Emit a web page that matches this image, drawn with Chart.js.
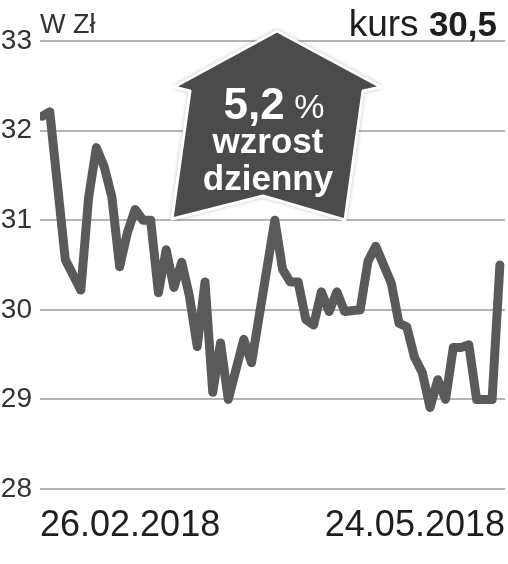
<!DOCTYPE html>
<html>
<head>
<meta charset="utf-8">
<script src="https://cdn.jsdelivr.net/npm/chart.js@4/dist/chart.umd.min.js"></script>
<style>
  html, body { margin: 0; padding: 0; background: #fff; }
  #wrap { width: 508px; height: 564px; position: relative; }
</style>
</head>
<body>
<div id="wrap"><canvas id="chart" width="508" height="564"></canvas></div>
<script>
// trading-day index since 26.02.2018 and closing price
const dayIndex = [0, 1, 3, 5, 6, 7, 8, 9, 10, 11, 12, 13, 14, 15, 16, 17, 18, 19,
    20, 21, 22, 23, 24, 26, 27, 30, 31, 32, 33, 34, 35, 36, 37, 38, 39, 41,
    42, 43, 45, 46, 47, 48, 49, 50, 51, 52, 53, 54, 55, 56, 58, 59];
const prices = [32.16, 32.21, 30.56, 30.22, 31.25, 31.81, 31.6, 31.26, 30.48, 30.86, 31.12, 31.0, 31.0, 30.19, 30.67, 30.25, 30.53, 30.15,
    29.59, 30.31, 29.08, 29.63, 29.0, 29.67, 29.41, 31.0, 30.45, 30.31, 30.31, 29.89, 29.83, 30.2, 29.98, 30.2, 29.98, 30.0,
    30.54, 30.71, 30.3, 29.85, 29.81, 29.47, 29.3, 28.91, 29.22, 29.0, 29.58, 29.58, 29.61, 29.0, 29.0, 30.5];
const xTickLabels = ["26.02.2018", "24.05.2018"];
const yMin = 28;
const yMax = 33;

const unitLabel = "W Zł";
const rateLabel = "kurs";
const rateValue = "30,5";
const badgeValue = "5,2";
const badgeLines = ["wzrost", "dzienny"];

const lineColour = "#5a5a5a";
const badgeColour = "#4b4b4b";

function drawBadge(ctx) {
    ctx.save();
    ctx.beginPath();
    ctx.moveTo(277, 31);
    ctx.lineTo(381, 87);
    ctx.lineTo(363, 91);
    ctx.lineTo(345, 220);
    ctx.lineTo(263, 196);
    ctx.lineTo(172, 219);
    ctx.lineTo(190, 91);
    ctx.lineTo(174, 87);
    ctx.closePath();
    ctx.shadowColor = "rgba(0,0,0,0.45)";
    ctx.shadowBlur = 5;
    ctx.fillStyle = badgeColour;
    ctx.fill();
    ctx.shadowColor = "transparent";
    ctx.lineJoin = "round";
    ctx.lineWidth = 3;
    ctx.strokeStyle = "#fff";
    ctx.stroke();

    ctx.fillStyle = "#fff";
    ctx.textBaseline = "alphabetic";
    ctx.font = "bold 44px 'Liberation Sans', Arial, sans-serif";
    const w1 = ctx.measureText(badgeValue).width;
    ctx.font = "34px 'Liberation Sans', Arial, sans-serif";
    const w2 = ctx.measureText(" %").width;
    const x = 274 - (w1 + w2) / 2;
    ctx.textAlign = "left";
    ctx.font = "bold 44px 'Liberation Sans', Arial, sans-serif";
    ctx.fillText(badgeValue, x, 119);
    ctx.font = "34px 'Liberation Sans', Arial, sans-serif";
    ctx.fillText(" %", x + w1, 118);

    ctx.textAlign = "center";
    ctx.font = "bold 35px 'Liberation Sans', Arial, sans-serif";
    ctx.fillText(badgeLines[0], 268, 153);
    ctx.fillText(badgeLines[1], 268, 190);
    ctx.restore();
}

const labelsPlugin = {
    id: "labels",
    afterDatasetsDraw(chart) {
        drawBadge(chart.ctx);
    },
    afterDraw(chart) {
        const ctx = chart.ctx;
        ctx.save();
        ctx.fillStyle = "#333";
        ctx.textBaseline = "alphabetic";
        ctx.textAlign = "left";
        ctx.font = "27px 'Liberation Sans', Arial, sans-serif";
        ctx.fillText(unitLabel, 40, 33);

        ctx.fillStyle = "#1e1e1e";
        ctx.font = "bold 35px 'Liberation Sans', Arial, sans-serif";
        const wv = ctx.measureText(rateValue).width;
        ctx.textAlign = "right";
        ctx.fillText(rateValue, 497, 36);
        ctx.font = "37px 'Liberation Sans', Arial, sans-serif";
        ctx.fillText(rateLabel + " ", 497 - wv, 36);
        ctx.restore();
    }
};

const points = dayIndex.map((d, i) => ({x: d, y: prices[i]}));

new Chart(document.getElementById("chart"), {
    type: "line",
    data: {
        datasets: [{
            data: points,
            borderColor: lineColour,
            borderWidth: 9,
            borderJoinStyle: "round",
            borderCapStyle: "round",
            pointRadius: 0,
            tension: 0,
            fill: false
        }]
    },
    options: {
        responsive: false,
        animation: false,
        layout: {padding: {top: 41, right: 0, bottom: 0, left: 0}},
        plugins: {legend: {display: false}, tooltip: {enabled: false}},
        scales: {
            x: {
                type: "linear",
                min: -0.26,
                max: 59.66,
                afterBuildTicks: scale => {
                    scale.ticks = [{value: scale.min}, {value: scale.max}];
                },
                afterFit: scale => { scale.height = 75; },
                ticks: {
                    callback: (v, i) => xTickLabels[i],
                    align: "inner",
                    autoSkip: false,
                    maxRotation: 0,
                    padding: 3,
                    color: "#1e1e1e",
                    font: {family: "'Liberation Sans', Arial, sans-serif", size: 36}
                },
                grid: {display: true, drawOnChartArea: false, drawTicks: true, tickLength: 12, color: "rgba(0,0,0,0)"},
                border: {display: false}
            },
            y: {
                min: yMin,
                max: yMax,
                afterFit: scale => { scale.width = 40; },
                ticks: {
                    stepSize: 1,
                    padding: 8,
                    color: "#333",
                    font: {family: "'Liberation Sans', Arial, sans-serif", size: 28}
                },
                grid: {color: "#b4b4b4", lineWidth: 2, drawTicks: false},
                border: {display: false}
            }
        }
    },
    plugins: [labelsPlugin]
});
</script>
</body>
</html>
